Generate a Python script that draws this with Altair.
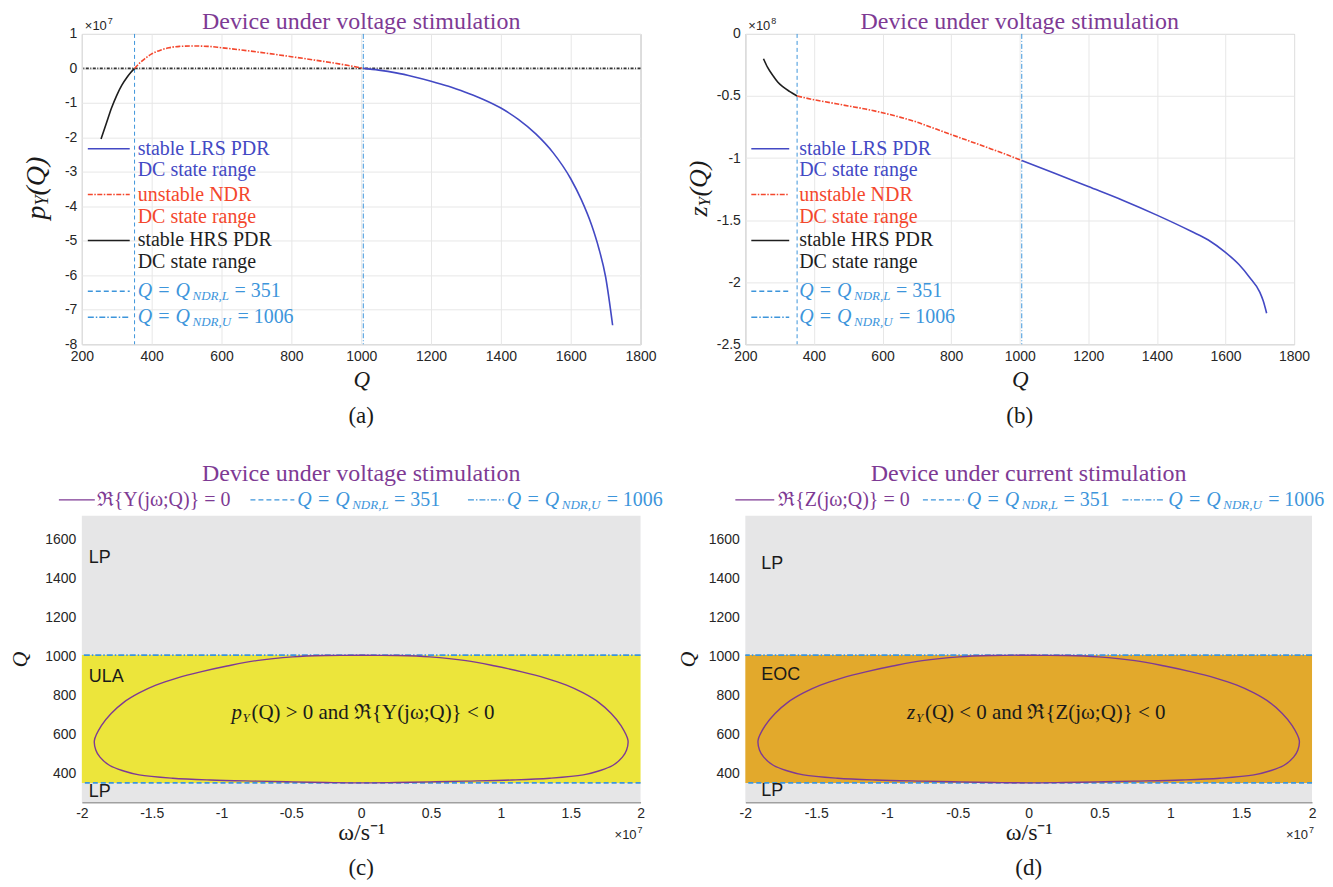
import altair as alt
import pandas as pd

SERIF = "Liberation Serif"
SANS = "Liberation Sans"
PURPLE = "#7E3A94"
BLUE = "#4349C4"
RED = "#F4472D"
BLACK = "#1E1E1E"
LBLUE = "#3D95DB"
GRAY_BG = "#E6E6E7"
YELLOW = "#ECE53B"
ORANGE = "#E2A92C"
INK = "#1A1A1A"
TICK = "#262626"

# ---------------- tick values ----------------
q_ticks = [200, 400, 600, 800, 1000, 1200, 1400, 1600, 1800]
p_ticks = [1, 0, -1, -2, -3, -4, -5, -6, -7, -8]
z_ticks = [0, -0.5, -1, -1.5, -2, -2.5]
w_ticks = [-2, -1.5, -1, -0.5, 0, 0.5, 1, 1.5, 2]
qc_ticks = [400, 600, 800, 1000, 1200, 1400, 1600]

Q_NDR_L = 351
Q_NDR_U = 1006

# ---------------- panel (a): p_Y(Q), units of 1e7 ----------------
a_hrs_q = [255, 270, 285, 300, 315, 330, 340, 351]
a_hrs_v = [-2.05, -1.6, -1.15, -0.78, -0.48, -0.25, -0.12, 0.0]
a_ndr_q = [351, 365, 380, 400, 425, 450, 480, 520, 560, 600, 700, 800, 900, 960, 1006]
a_ndr_v = [0.0, 0.15, 0.28, 0.42, 0.53, 0.60, 0.64, 0.65, 0.64, 0.60, 0.48, 0.34, 0.19, 0.09, 0.0]
a_lrs_q = [1006, 1050, 1100, 1150, 1200, 1250, 1300, 1350, 1400, 1450, 1500, 1550, 1600, 1630, 1660, 1680, 1700, 1720]
a_lrs_v = [0.0, -0.05, -0.13, -0.24, -0.37, -0.52, -0.70, -0.90, -1.15, -1.48, -1.90, -2.45, -3.20, -3.80, -4.55, -5.20, -6.05, -7.45]

# ---------------- panel (b): z_Y(Q), units of 1e8 ----------------
b_hrs_q = [253, 265, 280, 295, 310, 330, 351]
b_hrs_v = [-0.20, -0.27, -0.334, -0.39, -0.427, -0.465, -0.50]
b_ndr_q = [351, 400, 450, 500, 550, 600, 650, 700, 750, 800, 850, 900, 950, 1006]
b_ndr_v = [-0.50, -0.53, -0.555, -0.58, -0.605, -0.635, -0.67, -0.71, -0.76, -0.81, -0.86, -0.91, -0.96, -1.02]
b_lrs_q = [1006, 1100, 1200, 1300, 1400, 1500, 1550, 1600, 1640, 1670, 1700, 1710, 1720]
b_lrs_v = [-1.02, -1.12, -1.23, -1.34, -1.46, -1.59, -1.66, -1.76, -1.86, -1.96, -2.08, -2.15, -2.25]

# ---------------- panels (c),(d): Re{.}=0 boundary (omega in 1e7) ----------------
loop_w = [0, -0.25, -0.49, -0.75, -0.96, -1.15, -1.32, -1.47, -1.59, -1.70, -1.79, -1.86, -1.91,
          -1.90, -1.87, -1.80, -1.70, -1.59, -1.35, -1.08, -0.75, -0.49, -0.25, 0,
          0.25, 0.49, 0.75, 1.08, 1.35, 1.59, 1.70, 1.80, 1.87, 1.90,
          1.91, 1.86, 1.79, 1.70, 1.59, 1.47, 1.32, 1.15, 0.96, 0.75, 0.49, 0.25, 0]
loop_q = [1006, 1004, 997, 978, 950, 920, 888, 852, 812, 764, 707, 645, 569,
          520, 483, 440, 412, 392, 375, 366, 360, 356, 353, 351,
          353, 356, 360, 366, 375, 392, 412, 440, 483, 520,
          569, 645, 707, 764, 812, 852, 888, 920, 950, 978, 997, 1004, 1006]

region_lo = [252, Q_NDR_L, Q_NDR_U]
region_hi = [Q_NDR_L, Q_NDR_U, 1720]

ONE = pd.DataFrame({"k": [0]})
LABEL_EXPR = "'' + datum.value"


def txt(s, x, y, size, color=INK, font=SERIF, style="normal", align="left", angle=0):
    return alt.Chart(ONE).mark_text(
        text=s, fontSize=size, font=font, fontStyle=style, color=color,
        align=align, baseline="middle", angle=angle
    ).encode(x=alt.value(x), y=alt.value(y))


def seg(x1, x2, y, color, dash=None, width=1.5):
    kw = dict(color=color, strokeWidth=width)
    if dash is not None:
        kw["strokeDash"] = dash
    return alt.Chart(ONE).mark_rule(**kw).encode(x=alt.value(x1), x2=alt.value(x2), y=alt.value(y))


def qlab(x, y, sub, val, color, size=20):
    subw = 37 if sub.endswith("L") else 40
    return [
        txt("Q = Q", x, y, size, color, style="italic"),
        txt(sub, x + 55, y + 5, 13, color, style="italic"),
        txt("= " + val, x + 55 + subw + 5, y, size, color),
    ]


def exp_label(x, y, e, align="left"):
    if align == "left":
        return [txt("×10", x, y, 13, TICK, font=SANS), txt(e, x + 23, y - 5, 9, TICK, font=SANS)]
    return [txt("×10", x - 6, y, 13, TICK, font=SANS, align="right"),
            txt(e, x, y - 5, 9, TICK, font=SANS, align="right")]


DASH_L = [5, 3]
DASH_U = [6, 2, 1.5, 2]
DASH_NDR = [5, 1.5, 1.5, 1.5]


def curve_panel(W, H, ydom, yticks, hrs, ndr, lrs, ytitle, exp, caption, text_x, sym_x2, zero_line):
    xa = alt.X("Q:Q", scale=alt.Scale(domain=[200, 1800], nice=False, zero=False),
               axis=alt.Axis(values=q_ticks, labelExpr=LABEL_EXPR, title="Q", titleFont=SERIF,
                             titleFontStyle="italic", titleFontSize=23, titleFontWeight="normal",
                             titleColor=INK, titleX=W / 2, titleY=35, titleBaseline="middle",
                             labelFont=SANS, labelFontSize=14, labelColor=TICK, labelPadding=5,
                             labelFlush=False, labelOverlap=False, ticks=False, domain=False,
                             grid=True, gridColor="#E7E7E7", gridWidth=1))
    ya = alt.Y("v:Q", scale=alt.Scale(domain=ydom, nice=False, zero=False),
               axis=alt.Axis(values=yticks, labelExpr=LABEL_EXPR, title=None,
                             labelFont=SANS, labelFontSize=14, labelColor=TICK, labelPadding=5,
                             labelFlush=False, labelOverlap=False, ticks=False, domain=False,
                             grid=True, gridColor="#E7E7E7", gridWidth=1))

    def line(qs, vs, color, dash=None):
        kw = dict(color=color, strokeWidth=1.6, interpolate="monotone")
        if dash is not None:
            kw["strokeDash"] = dash
        return alt.Chart(pd.DataFrame({"Q": qs, "v": vs})).mark_line(**kw).encode(x=xa, y=ya)

    layers = []
    if zero_line:
        layers.append(alt.Chart(pd.DataFrame({"v": [0]})).mark_rule(
            color="#333333", strokeWidth=1.8, strokeDash=[3, 1.5, 1, 1.5]).encode(y=ya))
    layers += [
        alt.Chart(pd.DataFrame({"Q": [Q_NDR_L]})).mark_rule(color=LBLUE, strokeWidth=1,
                                                            strokeDash=[4, 3]).encode(x=xa),
        alt.Chart(pd.DataFrame({"Q": [Q_NDR_U]})).mark_rule(color=LBLUE, strokeWidth=1,
                                                            strokeDash=[5, 2, 1, 2]).encode(x=xa),
        line(hrs[0], hrs[1], BLACK),
        line(ndr[0], ndr[1], RED, DASH_NDR),
        line(lrs[0], lrs[1], BLUE),
    ]
    # legend
    rows = [115, 136, 161, 183, 207, 229, 258, 284]
    layers += [
        seg(6, sym_x2, rows[0], BLUE), txt("stable LRS PDR", text_x, rows[0], 20, BLUE),
        txt("DC state range", text_x, rows[1], 20, BLUE),
        seg(6, sym_x2, rows[2], RED, DASH_NDR), txt("unstable NDR", text_x, rows[2], 20, RED),
        txt("DC state range", text_x, rows[3], 20, RED),
        seg(6, sym_x2, rows[4], BLACK), txt("stable HRS PDR", text_x, rows[4], 20, BLACK),
        txt("DC state range", text_x, rows[5], 20, BLACK),
        seg(6, sym_x2, rows[6], LBLUE, DASH_L), seg(6, sym_x2, rows[7], LBLUE, DASH_U),
    ]
    layers += qlab(text_x, rows[6], "NDR,L", "351", LBLUE)
    layers += qlab(text_x, rows[7], "NDR,U", "1006", LBLUE)
    # titles / annotations
    layers.append(txt("Device under voltage stimulation", W / 2, -12, 24, PURPLE, align="center"))
    layers += exp_label(3, -8, exp)
    layers += ytitle
    layers.append(txt(caption, W / 2, H + 72, 23, INK, align="center"))
    return alt.layer(*layers).properties(
        width=W, height=H, view=alt.ViewBackground(stroke="#A8A8A8", strokeWidth=1))


def region_panel(W, H, mid_fill, title, mid_name, center, legend, ytitle_x, caption, lab_x, lab_y):
    xw = alt.X("w:Q", scale=alt.Scale(domain=[-2, 2], nice=False, zero=False),
               axis=alt.Axis(values=w_ticks, labelExpr=LABEL_EXPR, title="ω/s⁻¹", titleFont=SERIF,
                             titleFontSize=24, titleFontWeight="normal", titleColor=INK,
                             titleX=W / 2, titleY=30, titleBaseline="middle",
                             labelFont=SANS, labelFontSize=14, labelColor=TICK, labelPadding=4,
                             labelFlush=False, labelOverlap=False, ticks=False, domain=True,
                             domainColor="#A0A0A0", domainWidth=1.5, grid=False, zindex=1))
    yq = alt.Y("q:Q", scale=alt.Scale(domain=[252, 1720], nice=False, zero=False),
               axis=alt.Axis(values=qc_ticks, labelExpr=LABEL_EXPR, title="Q", titleFont=SERIF,
                             titleFontStyle="italic", titleFontSize=22, titleFontWeight="normal",
                             titleColor=INK, titleAngle=270, titleX=ytitle_x, titleY=H / 2,
                             titleBaseline="middle", titleAlign="center",
                             labelFont=SANS, labelFontSize=14, labelColor=TICK, labelPadding=6,
                             labelFlush=False, labelOverlap=False, ticks=False, domain=False,
                             grid=False, zindex=1))
    regions = pd.DataFrame({"w": [-2, -2, -2], "w2": [2, 2, 2], "q": region_lo, "q2": region_hi,
                            "fill": [GRAY_BG, mid_fill, GRAY_BG]})
    loop = pd.DataFrame({"w": loop_w, "q": loop_q, "idx": list(range(len(loop_w)))})
    layers = [
        alt.Chart(regions).mark_rect().encode(x=xw, x2="w2", y=yq, y2="q2",
                                              color=alt.Color("fill:N", scale=None)),
        alt.Chart(pd.DataFrame({"q": [Q_NDR_L]})).mark_rule(color=LBLUE, strokeWidth=1.6,
                                                            strokeDash=DASH_L).encode(y=yq),
        alt.Chart(pd.DataFrame({"q": [Q_NDR_U]})).mark_rule(color=LBLUE, strokeWidth=1.6,
                                                            strokeDash=DASH_U).encode(y=yq),
        alt.Chart(loop).mark_line(color=PURPLE, strokeWidth=1.4, interpolate="catmull-rom").encode(
            x=xw, y=yq, order=alt.Order("idx:Q")),
        txt("LP", lab_x, lab_y[0], 18, INK, font=SANS),
        txt(mid_name, lab_x, lab_y[1], 18, INK, font=SANS),
        txt("LP", lab_x, lab_y[2], 18, INK, font=SANS),
        txt(title, W / 2, -42, 24, PURPLE, align="center"),
        txt(caption, W / 2, H + 66, 23, INK, align="center"),
    ]
    layers += center
    layers += legend
    layers += exp_label(W + 2, H + 33, "7", align="right")
    return alt.layer(*layers).properties(
        width=W, height=H, view=alt.ViewBackground(stroke="transparent"))


# y-axis titles built from pieces (subscripts)
ytitle_a = [
    txt("p", -45, 186, 28, INK, style="italic", angle=270),
    txt("Y", -39, 172, 18, INK, style="italic", angle=270),
    txt("(Q)", -45, 162, 28, INK, style="italic", angle=270),
]
ytitle_b = [
    txt("z", -46, 183, 26, INK, style="italic", angle=270),
    txt("Y", -40, 173, 17, INK, style="italic", angle=270),
    txt("(Q)", -46, 163, 26, INK, style="italic", angle=270),
]

pa = curve_panel(560, 311, [-8, 1], p_ticks, (a_hrs_q, a_hrs_v), (a_ndr_q, a_ndr_v),
                 (a_lrs_q, a_lrs_v), ytitle_a, "7", "(a)", 56, 48, True)
pb = curve_panel(550, 311, [-2.5, 0], z_ticks, (b_hrs_q, b_hrs_v), (b_ndr_q, b_ndr_v),
                 (b_lrs_q, b_lrs_v), ytitle_b, "8", "(b)", 54, 44, False)

LY = -16
center_c = [
    txt("p", 150, 198, 21, INK, style="italic"),
    txt("Y", 161, 203, 13, INK, style="italic"),
    txt("(Q) > 0 and ℜ{Y(jω;Q)} < 0", 170, 198, 21, INK),
]
legend_c = [seg(-23, 13, LY, PURPLE), txt("ℜ{Y(jω;Q)} = 0", 15, LY, 20, PURPLE),
            seg(169, 213, LY, LBLUE, DASH_L)] + qlab(216, LY, "NDR,L", "351", LBLUE) + \
           [seg(387, 423, LY, LBLUE, DASH_U)] + qlab(426, LY, "NDR,U", "1006", LBLUE)

center_d = [
    txt("z", 162, 198, 21, INK, style="italic"),
    txt("Y", 171, 203, 13, INK, style="italic"),
    txt("(Q) < 0 and ℜ{Z(jω;Q)} < 0", 180, 198, 21, INK),
]
legend_d = [seg(-10, 29, LY, PURPLE), txt("ℜ{Z(jω;Q)} = 0", 33, LY, 20, PURPLE),
            seg(178, 219, LY, LBLUE, DASH_L)] + qlab(222, LY, "NDR,L", "351", LBLUE) + \
           [seg(378, 419, LY, LBLUE, DASH_U)] + qlab(424, LY, "NDR,U", "1006", LBLUE)

pc = region_panel(560, 287, YELLOW, "Device under voltage stimulation", "ULA", center_c, legend_c,
                  -62, "(c)", 7, [42, 162, 277])
pd_ = region_panel(568, 287, ORANGE, "Device under current stimulation", "EOC", center_d, legend_d,
                   -58, "(d)", 16, [48, 160, 276])

chart = alt.concat(
    pa, pb, pc, pd_, columns=2, bounds="flush",
    spacing={"row": 172, "column": 105},
).properties(
    padding={"left": 0, "top": 0, "right": 0, "bottom": 0}
).configure(background="white")

chart.save("out.html", embed_options={"renderer": "svg", "actions": False})
